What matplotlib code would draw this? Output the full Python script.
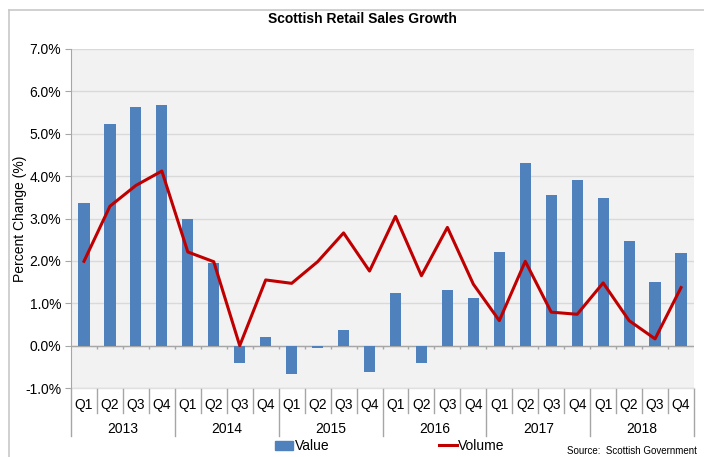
import matplotlib
matplotlib.use("Agg")
import matplotlib.pyplot as plt
import matplotlib.transforms as mtrans
from matplotlib.patches import Patch
from matplotlib.lines import Line2D
import numpy as np

plt.rcParams["font.family"] = ["Liberation Sans", "DejaVu Sans"]

years = ["2013", "2014", "2015", "2016", "2017", "2018"]
quarters = ["Q1", "Q2", "Q3", "Q4"]

value = [3.37, 5.22, 5.64, 5.69,
         2.99, 1.96, -0.42, 0.21,
         -0.68, -0.06, 0.37, -0.62,
         1.24, -0.40, 1.31, 1.13,
         2.20, 4.31, 3.56, 3.92,
         3.48, 2.46, 1.50, 2.18]
volume = [1.99, 3.29, 3.78, 4.12,
          2.21, 1.98, 0.0, 1.55,
          1.47, 1.98, 2.66, 1.76,
          3.05, 1.65, 2.79, 1.45,
          0.59, 1.99, 0.79, 0.74,
          1.48, 0.59, 0.16, 1.37]

BAR = "#4f81bd"
LINE = "#c00000"
GRID = "#d9d9d9"
AXIS = "#a6a6a6"

W, H = 704, 457
fig = plt.figure(figsize=(W / 100, H / 100), dpi=100)

# chart border (left and top visible)
fig.add_artist(Line2D([9 / W, 9 / W], [0, 1 - 10 / H], color="#c8c8c8", lw=1.2))
fig.add_artist(Line2D([9 / W, 1], [1 - 10 / H, 1 - 10 / H], color="#c8c8c8", lw=1.2))

left, right, top, bottom = 71, 694, 49, 388
ax = fig.add_axes([left / W, 1 - bottom / H, (right - left) / W, (bottom - top) / H])
ax.set_facecolor("#f2f2f2")

n = len(value)
x = np.arange(n)
ax.bar(x, value, width=0.43, color=BAR, zorder=3)
ax.plot(x, volume, color=LINE, lw=2.2, zorder=4)

ax.set_xlim(-0.5, n - 0.5)
ax.set_ylim(-1.0, 7.0)
ax.set_yticks(np.arange(-1, 7.01, 1))
ax.set_yticklabels([f"{v:.1f}%" for v in np.arange(-1, 7.01, 1)], fontsize=10)
ax.yaxis.grid(True, color=GRID, lw=1, zorder=0)
ax.set_axisbelow(True)
ax.tick_params(axis="y", length=4, color=AXIS, pad=3)
ax.set_xticks([])
for s in ["top", "right", "bottom"]:
    ax.spines[s].set_visible(False)
ax.spines["left"].set_color(AXIS)
ax.set_ylabel("Percent Change (%)", fontsize=10)
ax.yaxis.set_label_coords((27 - left) / (right - left), 0.5)

# zero axis with tick marks
ax.axhline(0, color=AXIS, lw=1, zorder=2)
bnds = np.arange(n + 1) - 0.5
ax.vlines(bnds[1:-1], -0.09, 0, color=AXIS, lw=1, zorder=2)

# multi-level category labels
tr = mtrans.blended_transform_factory(ax.transData, ax.transAxes)
ph = bottom - top
def yf(py):
    return (bottom - py) / ph

ax.plot([-0.5, n - 0.5], [0, 0], transform=tr, color="#e0e0e0", lw=1, clip_on=False)
for i in range(n):
    ax.text(i, yf(405), quarters[i % 4], transform=tr, ha="center", va="center", fontsize=10)
for b in bnds:
    k = int(round(b + 0.5))
    low = 436 if k % 4 == 0 else 413
    ax.plot([b, b], [yf(389), yf(low)], transform=tr, color=AXIS, lw=1, clip_on=False)
for j, yr in enumerate(years):
    ax.text(j * 4 + 1.5, yf(429), yr, transform=tr, ha="center", va="center", fontsize=10)

fig.text(362 / W, 1 - 19 / H, "Scottish Retail Sales Growth", ha="center", va="center",
         fontsize=10, fontweight="bold")

handles = [Patch(color=BAR), Line2D([0], [0], color=LINE, lw=2.2)]
fig.legend(handles, ["Value", "Volume"], loc="center", bbox_to_anchor=(390 / W, 1 - 446 / H),
           ncol=2, frameon=False, fontsize=10, handlelength=1.3, handletextpad=0.1,
           columnspacing=7.9, handleheight=0.6)

fig.text(697 / W, 1 - 451 / H, "Source:  Scottish Government", ha="right", va="center",
         fontsize=7)

fig.savefig("out.png", dpi=100)
